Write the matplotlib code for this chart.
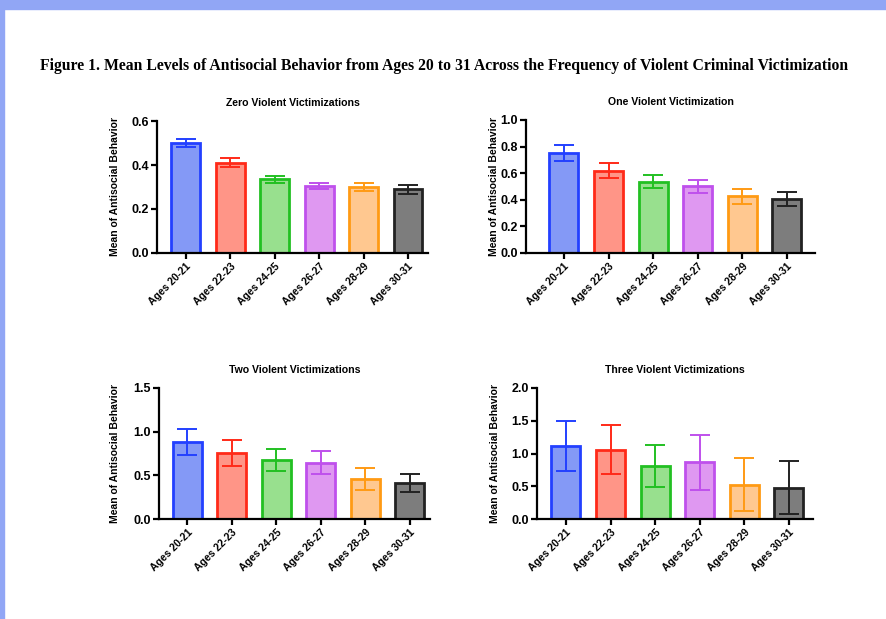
import matplotlib.pyplot as plt
from matplotlib.patches import Rectangle

# data
ages = ['Ages 20-21', 'Ages 22-23', 'Ages 24-25', 'Ages 26-27', 'Ages 28-29', 'Ages 30-31']

zero_mean = [0.50, 0.41, 0.335, 0.305, 0.30, 0.29]
zero_err = [0.02, 0.02, 0.015, 0.015, 0.02, 0.02]
one_mean = [0.755, 0.62, 0.535, 0.50, 0.425, 0.405]
one_err = [0.06, 0.055, 0.05, 0.05, 0.055, 0.055]
two_mean = [0.88, 0.76, 0.675, 0.645, 0.455, 0.41]
two_err = [0.145, 0.15, 0.13, 0.13, 0.125, 0.105]
three_mean = [1.11, 1.06, 0.81, 0.87, 0.52, 0.48]
three_err = [0.38, 0.38, 0.32, 0.42, 0.405, 0.405]

titles = ['Zero Violent Victimizations', 'One Violent Victimization',
          'Two Violent Victimizations', 'Three Violent Victimizations']
ylims = [0.6, 1.0, 1.5, 2.0]
yticks = [[0.0, 0.2, 0.4, 0.6], [0.0, 0.2, 0.4, 0.6, 0.8, 1.0],
          [0.0, 0.5, 1.0, 1.5], [0.0, 0.5, 1.0, 1.5, 2.0]]

edge_colors = ['#2340ff', '#ff2a18', '#22c022', '#bf50ec', '#ff9a14', '#222222']
fill_colors = ['#8499f6', '#ff9587', '#98e08e', '#df98f1', '#ffc890', '#7d7d7d']

W, H = 886, 619
fig = plt.figure(figsize=(W / 100, H / 100), dpi=100)
fig.patch.set_facecolor('white')

# light blue frame at top and left
fig.patches.append(Rectangle((0, 1 - 9 / H), 1, 9 / H, transform=fig.transFigure,
                             color='#91a6f5', zorder=0))
fig.patches.append(Rectangle((0, 0), 4 / W, 1, transform=fig.transFigure,
                             color='#91a6f5', zorder=0))

fig.text(444 / W, 1 - 66 / H,
         'Figure 1. Mean Levels of Antisocial Behavior from Ages 20 to 31 Across the Frequency of Violent Criminal Victimization',
         ha='center', va='center', fontsize=11.3, fontweight='bold', family='Liberation Serif')

# pixel boxes: left, right, top, bottom, xmin, xmax, ylabel centre x
boxes = [(157, 428, 121, 253, -0.65, 5.45, 115),
         (526, 815, 120, 253, -0.85, 5.63, 494),
         (159, 430, 388, 519, -0.63, 5.45, 115),
         (537, 813, 388, 519, -0.65, 5.54, 495)]
means = [zero_mean, one_mean, two_mean, three_mean]
errs = [zero_err, one_err, two_err, three_err]

for i in range(4):
    l, r, t, b, x0, x1, lx = boxes[i]
    ax = fig.add_axes([l / W, 1 - b / H, (r - l) / W, (b - t) / H])
    x = list(range(len(ages)))
    ax.bar(x, means[i], width=0.65, color=fill_colors, edgecolor=edge_colors,
           linewidth=2.0, zorder=2)
    for j in x:
        ax.errorbar(j, means[i][j], yerr=errs[i][j], color=edge_colors[j],
                    capsize=7, elinewidth=1.4, capthick=1.4, zorder=3)
    ax.set_xlim(x0, x1)
    ax.set_ylim(0, ylims[i])
    ax.set_yticks(yticks[i])
    ax.set_yticklabels(['%.1f' % v for v in yticks[i]], fontsize=9,
                       fontweight='bold', family='Liberation Sans')
    ax.set_xticks(x)
    ax.set_xticklabels(ages, rotation=45, ha='right', rotation_mode='anchor',
                       fontsize=7.5, fontweight='bold', family='Liberation Sans')
    ax.spines['top'].set_visible(False)
    ax.spines['right'].set_visible(False)
    ax.spines['left'].set_linewidth(1.6)
    ax.spines['bottom'].set_linewidth(1.6)
    ax.tick_params(width=1.6, length=4, pad=2)
    ax.set_ylabel('Mean of Antisocial Behavior', fontsize=7.5, fontweight='bold',
                  family='Liberation Sans')
    ax.yaxis.set_label_coords((lx - l) / (r - l), 0.5)
    ax.yaxis.label.set_va('center')
    ax.set_title(titles[i], fontsize=7.6, fontweight='bold',
                 family='Liberation Sans', pad=11)

fig.savefig('out.png', dpi=100)
